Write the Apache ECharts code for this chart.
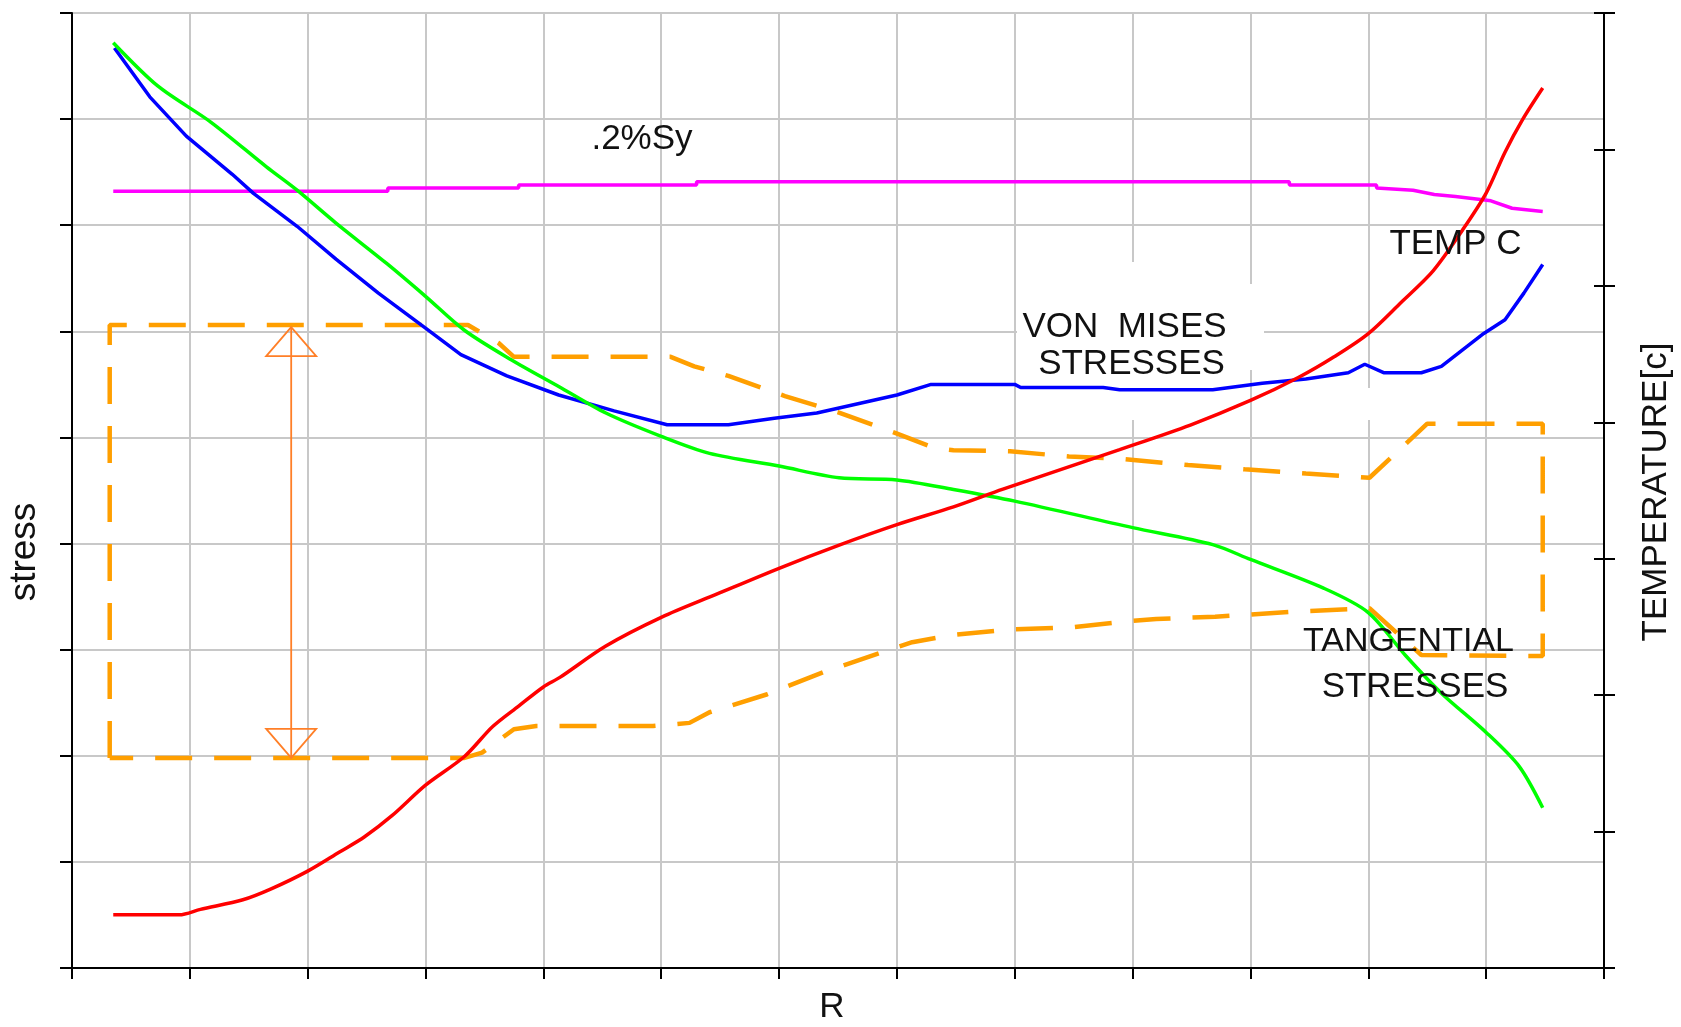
<!DOCTYPE html>
<html>
<head>
<meta charset="utf-8">
<script src="https://cdn.jsdelivr.net/npm/echarts@6/dist/echarts.min.js"></script>
<style>
html,body{margin:0;padding:0;background:#fff;}
#c{width:1681px;height:1027px;}
</style>
</head>
<body>
<div id="c"></div>
<script>
// ---- Data (R in grid units, stress in left-axis units, temperature in right-axis units) ----
const tangR = [0.35, 0.73, 1.18, 1.65, 1.91, 2.24, 2.67, 3.0, 3.33, 3.73, 4.13, 4.53, 5.0, 5.41, 6.0, 6.51, 7.0, 7.48, 8.0, 9.0, 9.68, 10.0, 10.62, 11.0, 11.32, 11.62, 12.0, 12.28, 12.48];
const tangential = [8.72, 8.31, 7.97, 7.55, 7.33, 7.02, 6.64, 6.33, 6.01, 5.73, 5.48, 5.23, 5.01, 4.85, 4.73, 4.62, 4.60, 4.51, 4.40, 4.15, 3.99, 3.85, 3.58, 3.35, 2.94, 2.59, 2.22, 1.90, 1.51];

const vmR = [0.36, 0.66, 0.97, 1.36, 1.54, 1.91, 2.24, 2.60, 3.0, 3.30, 3.69, 4.13, 4.6, 5.05, 5.57, 5.96, 6.32, 7.0, 7.29, 8.0, 8.05, 8.75, 8.89, 9.68, 10.1, 10.47, 10.83, 10.97, 11.13, 11.45, 11.62, 11.98, 12.16, 12.32, 12.48];
const vonMises = [8.67, 8.21, 7.84, 7.48, 7.30, 6.99, 6.68, 6.36, 6.03, 5.78, 5.58, 5.40, 5.25, 5.12, 5.12, 5.18, 5.23, 5.40, 5.50, 5.50, 5.47, 5.47, 5.45, 5.45, 5.51, 5.55, 5.61, 5.69, 5.61, 5.61, 5.67, 5.98, 6.11, 6.36, 6.63];

const syR = [0.35, 2.68, 2.68, 3.79, 3.79, 5.3, 5.3, 10.33, 10.33, 11.07, 11.07, 11.38, 11.56, 11.74, 12.04, 12.22, 12.48];
const yieldSy = [7.32, 7.32, 7.35, 7.35, 7.38, 7.38, 7.41, 7.41, 7.38, 7.38, 7.35, 7.33, 7.29, 7.27, 7.23, 7.16, 7.13];

const tempR = [0.35, 0.91, 1.09, 1.45, 1.69, 2.0, 2.27, 2.48, 2.72, 3.0, 3.33, 3.57, 3.79, 4.0, 4.14, 4.53, 5.0, 5.47, 6.0, 6.51, 7.0, 7.48, 7.9, 8.89, 9.49, 10.0, 10.41, 10.71, 11.0, 11.28, 11.55, 11.8, 12.0, 12.16, 12.31, 12.48];
const temperature = [0.39, 0.39, 0.43, 0.50, 0.58, 0.71, 0.85, 0.96, 1.12, 1.34, 1.55, 1.77, 1.92, 2.06, 2.13, 2.36, 2.57, 2.74, 2.93, 3.10, 3.25, 3.38, 3.51, 3.80, 3.98, 4.16, 4.33, 4.48, 4.65, 4.88, 5.11, 5.41, 5.68, 5.98, 6.22, 6.45];

const envR = [0.32, 0.32, 3.36, 3.62, 3.75, 5.08, 5.28, 5.57, 6.05, 6.52, 6.99, 7.32, 7.48, 7.96, 8.46, 8.89, 9.47, 9.95, 10.47, 11.01, 11.5, 12.48, 12.48, 11.45, 11.01, 10.4, 9.7, 9.2, 8.89, 8.48, 7.96, 7.48, 7.13, 6.86, 6.38, 5.90, 5.41, 5.24, 4.93, 3.94, 3.75, 3.48, 3.33, 0.32];
const envelope = [1.98, 6.06, 6.06, 5.89, 5.76, 5.76, 5.67, 5.58, 5.39, 5.23, 5.04, 4.90, 4.88, 4.87, 4.82, 4.80, 4.74, 4.70, 4.66, 4.62, 5.13, 5.13, 2.94, 2.95, 3.39, 3.36, 3.31, 3.29, 3.26, 3.21, 3.19, 3.14, 3.07, 2.97, 2.79, 2.58, 2.41, 2.31, 2.28, 2.28, 2.25, 2.03, 1.98, 1.98];

const arrowR = [1.86];
const arrowTop = [6.04];
const arrowBottom = [1.98];

// ---- Chart ----
const FONT = '"Liberation Sans", Arial, Helvetica, sans-serif';
const GRID = '#c8c8c8';
function pairs(xs, ys) { return xs.map(function (x, i) { return [x, ys[i]]; }); }

const chart = echarts.init(document.getElementById('c'), null, { renderer: 'canvas' });

function lineSeries(name, xs, ys, color, extra) {
  return Object.assign({
    type: 'line', name: name, data: pairs(xs, ys),
    showSymbol: false, symbol: 'none', silent: true, z: 2,
    lineStyle: { color: color, width: 3.5 }, itemStyle: { color: color }
  }, extra || {});
}

function txt(text, x, y, size, rot) {
  return {
    type: 'text', z: 100, x: x, y: y, rotation: rot || 0, silent: true,
    style: { text: text, fontSize: size, fontFamily: FONT, fill: '#111', align: 'center', verticalAlign: 'middle' }
  };
}

const option = {
  animation: false,
  backgroundColor: '#fff',
  grid: { left: 72, right: 77, top: 13, bottom: 59, containLabel: false },
  xAxis: {
    type: 'value', min: 0, max: 13, interval: 1,
    axisLine: { show: true, onZero: false, lineStyle: { color: '#000', width: 2 } },
    axisTick: { show: true, length: 11, lineStyle: { color: '#000', width: 2 } },
    axisLabel: { show: false },
    splitLine: { show: true, lineStyle: { color: GRID, width: 2 } }
  },
  yAxis: [
    {
      type: 'value', min: 0, max: 9, interval: 1, position: 'left',
      axisLine: { show: true, onZero: false, lineStyle: { color: '#000', width: 2 } },
      axisTick: { show: true, length: 12, lineStyle: { color: '#000', width: 2 } },
      axisLabel: { show: false },
      splitLine: { show: true, lineStyle: { color: GRID, width: 2 } }
    },
    {
      type: 'value', min: 0, max: 7, interval: 1, position: 'right',
      axisLine: { show: true, onZero: false, lineStyle: { color: '#000', width: 2 } },
      axisTick: { show: true, length: 11, lineStyle: { color: '#000', width: 2 } },
      axisLabel: { show: false },
      splitLine: { show: false }
    },
    {
      type: 'value', min: 0, max: 7, interval: 1, position: 'right', offset: 0,
      axisLine: { show: false, onZero: false },
      axisTick: { show: true, inside: true, length: 10, lineStyle: { color: '#000', width: 2 } },
      axisLabel: { show: false },
      splitLine: { show: false }
    }
  ],
  series: [
    lineSeries('envelope', envR, envelope, '#ff9f00', { lineStyle: { color: '#ff9f00', width: 4.5, type: [37, 22] } }),
    lineSeries('.2%Sy', syR, yieldSy, '#ff00ff'),
    lineSeries('VON MISES STRESSES', vmR, vonMises, '#0000ff'),
    lineSeries('TANGENTIAL STRESSES', tangR, tangential, '#00ff00', { smooth: 0.3 }),
    lineSeries('TEMP C', tempR, temperature, '#ff0000', { yAxisIndex: 1, smooth: 0.3 }),
    {
      type: 'custom', name: 'range', silent: true, z: 3,
      data: arrowR.map(function (x, i) { return [x, arrowTop[i], arrowBottom[i]]; }),
      encode: { x: 0, y: [1, 2] },
      renderItem: function (params, api) {
        const x = api.value(0);
        const p1 = api.coord([x, api.value(1)]);
        const p2 = api.coord([x, api.value(2)]);
        const hw = 25, h = 29;
        const st = { stroke: '#ff7f27', lineWidth: 1.8, fill: 'none' };
        return {
          type: 'group', children: [
            { type: 'line', shape: { x1: p1[0], y1: p1[1], x2: p2[0], y2: p2[1] }, style: st },
            { type: 'polygon', shape: { points: [[p1[0], p1[1]], [p1[0] - hw, p1[1] + h], [p1[0] + hw, p1[1] + h]] }, style: st },
            { type: 'polygon', shape: { points: [[p2[0], p2[1]], [p2[0] - hw, p2[1] - h], [p2[0] + hw, p2[1] - h]] }, style: st }
          ]
        };
      }
    }
  ],
  graphic: [
    { type: 'rect', z: 1, silent: true, shape: { x: 1017, y: 262, width: 228, height: 158 }, style: { fill: '#fff' } },
    { type: 'rect', z: 1, silent: true, shape: { x: 1240, y: 284, width: 24, height: 86 }, style: { fill: '#fff' } },
    { type: 'rect', z: 1, silent: true, shape: { x: 1362, y: 388, width: 14, height: 32 }, style: { fill: '#fff' } },
    txt('.2%Sy', 642, 139.5, 35),
    txt('TEMP C', 1455.5, 244, 35),
    txt('VON  MISES', 1124.5, 327, 35),
    txt('STRESSES', 1131.5, 364.5, 35),
    txt('TANGENTIAL', 1408.5, 642, 34),
    txt('STRESSES', 1415, 687.5, 35),
    txt('R', 832, 1007, 35),
    txt('stress', 24.5, 552, 37, Math.PI / 2),
    txt('TEMPERATURE[c]', 1656.5, 492, 35, Math.PI / 2)
  ]
};

chart.setOption(option);
</script>
</body>
</html>
